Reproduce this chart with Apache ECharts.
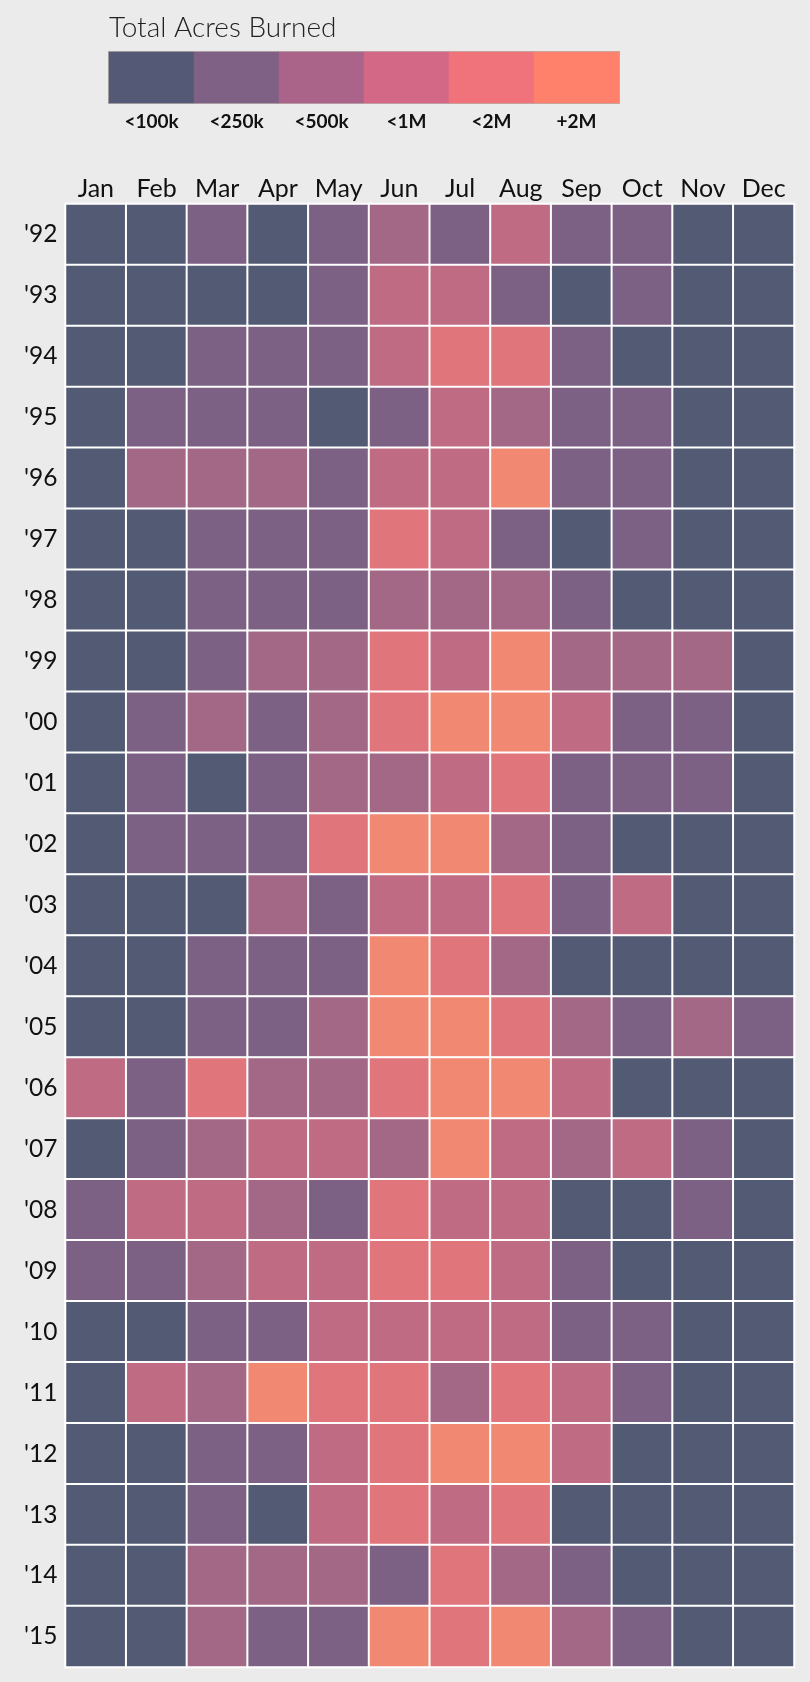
<!DOCTYPE html>
<html>
<head>
<meta charset="utf-8">
<script src="https://cdn.jsdelivr.net/npm/echarts@6/dist/echarts.min.js"></script>
<style>
html,body{margin:0;padding:0;background:#ebebeb;}
#chart{width:810px;height:1682px;}
</style>
</head>
<body>
<div id="chart"></div>
<script>
var months = ['Jan','Feb','Mar','Apr','May','Jun','Jul','Aug','Sep','Oct','Nov','Dec'];
var years = ["'92","'93","'94","'95","'96","'97","'98","'99","'00","'01","'02","'03","'04","'05","'06","'07","'08","'09","'10","'11","'12","'13","'14","'15"];
var legendLabels = ['<100k','<250k','<500k','<1M','<2M','+2M'];
// class index per year (rows) and month (cols): 0=<100k ... 5=+2M
var y92 = [0,0,1,0,1,2,1,3,1,1,0,0];
var y93 = [0,0,0,0,1,3,3,1,0,1,0,0];
var y94 = [0,0,1,1,1,3,4,4,1,0,0,0];
var y95 = [0,1,1,1,0,1,3,2,1,1,0,0];
var y96 = [0,2,2,2,1,3,3,5,1,1,0,0];
var y97 = [0,0,1,1,1,4,3,1,0,1,0,0];
var y98 = [0,0,1,1,1,2,2,2,1,0,0,0];
var y99 = [0,0,1,2,2,4,3,5,2,2,2,0];
var y00 = [0,1,2,1,2,4,5,5,3,1,1,0];
var y01 = [0,1,0,1,2,2,3,4,1,1,1,0];
var y02 = [0,1,1,1,4,5,5,2,1,0,0,0];
var y03 = [0,0,0,2,1,3,3,4,1,3,0,0];
var y04 = [0,0,1,1,1,5,4,2,0,0,0,0];
var y05 = [0,0,1,1,2,5,5,4,2,1,2,1];
var y06 = [3,1,4,2,2,4,5,5,3,0,0,0];
var y07 = [0,1,2,3,3,2,5,3,2,3,1,0];
var y08 = [1,3,3,2,1,4,3,3,0,0,1,0];
var y09 = [1,1,2,3,3,4,4,3,1,0,0,0];
var y10 = [0,0,1,1,3,3,3,3,1,1,0,0];
var y11 = [0,3,2,5,4,4,2,4,3,1,0,0];
var y12 = [0,0,1,1,3,4,5,5,3,0,0,0];
var y13 = [0,0,1,0,3,4,3,4,0,0,0,0];
var y14 = [0,0,2,2,2,1,4,2,1,0,0,0];
var y15 = [0,0,2,1,1,5,4,5,2,1,0,0];
var rows = [y92,y93,y94,y95,y96,y97,y98,y99,y00,y01,y02,y03,y04,y05,y06,y07,y08,y09,y10,y11,y12,y13,y14,y15];

var cellColors = ['#535a73','#7d6185','#a26886','#c06b84','#e0767b','#f08872'];
var legendColors = ['#545a75','#7f6186','#aa6489','#d26886','#f0737c','#ff806b'];

var data = [];
rows.forEach(function(r, yi){ r.forEach(function(v, mi){ data.push([mi, yi, v]); }); });
var legendData = legendLabels.map(function(l, i){ return [i, 0, i]; });

var FONT = 'Lato, "Open Sans", sans-serif';
var chart = echarts.init(document.getElementById('chart'), null, {renderer:'canvas'});
chart.setOption({
  backgroundColor: '#ebebeb',
  animation: false,
  title: {
    text: 'Total Acres Burned', left: 104, top: 9,
    textStyle: {fontFamily: FONT, fontWeight: 300, fontSize: 28, color: '#222'}
  },
  grid: [
    {left: 65.5, top: 204, width: 728.5, height: 1463, containLabel: false},
    {left: 109, top: 52, width: 510, height: 51, show: true, borderColor: '#b8b0aa', borderWidth: 2, backgroundColor: 'transparent'}
  ],
  xAxis: [
    {type: 'category', data: months, position: 'top', gridIndex: 0,
     axisLine: {show: false}, axisTick: {show: false}, splitLine: {show: false},
     axisLabel: {interval: 0, hideOverlap: false, fontFamily: FONT, fontSize: 25, color: '#111', margin: 3}},
    {type: 'category', data: legendLabels, position: 'bottom', gridIndex: 1,
     axisLine: {show: false}, axisTick: {show: false},
     axisLabel: {interval: 0, hideOverlap: false, fontFamily: FONT, fontSize: 19, fontWeight: 'bold', color: '#111', margin: 9}}
  ],
  yAxis: [
    {type: 'category', data: years, inverse: true, gridIndex: 0,
     axisLine: {show: false}, axisTick: {show: false}, splitLine: {show: false},
     axisLabel: {interval: 0, hideOverlap: false, fontFamily: FONT, fontSize: 24.5, color: '#111', margin: 8}},
    {type: 'category', data: ['legend'], gridIndex: 1, show: false}
  ],
  visualMap: [
    {type: 'piecewise', show: false, seriesIndex: 0, dimension: 2,
     pieces: cellColors.map(function(c, i){ return {value: i, color: c}; })},
    {type: 'piecewise', show: false, seriesIndex: 1, dimension: 2,
     pieces: legendColors.map(function(c, i){ return {value: i, color: c}; })}
  ],
  series: [
    {type: 'heatmap', xAxisIndex: 0, yAxisIndex: 0, data: data,
     itemStyle: {borderColor: '#ffffff', borderWidth: 2},
     emphasis: {disabled: true}},
    {type: 'heatmap', xAxisIndex: 1, yAxisIndex: 1, data: legendData,
     itemStyle: {borderWidth: 0},
     emphasis: {disabled: true}}
  ]
});
</script>
</body>
</html>
